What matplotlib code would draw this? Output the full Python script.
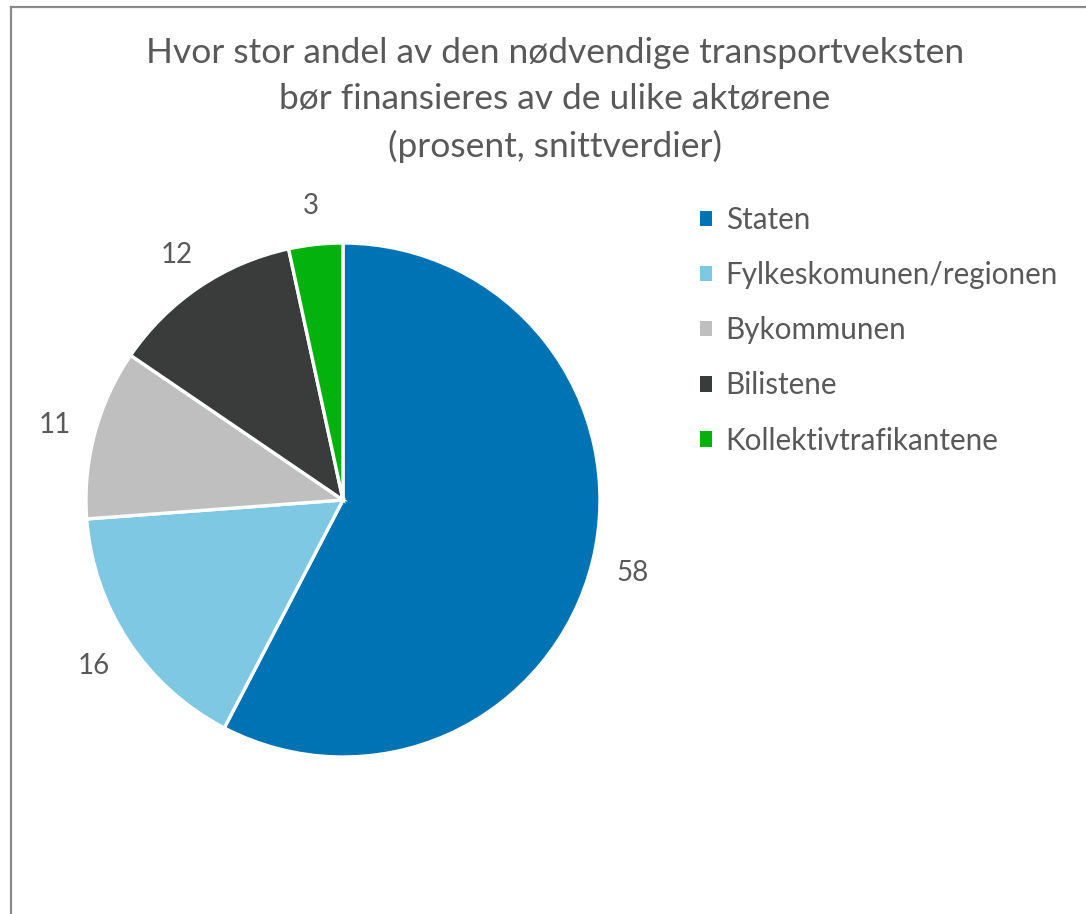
import matplotlib.pyplot as plt
from matplotlib.lines import Line2D
from matplotlib.patches import Patch

plt.rcParams["font.family"] = ["Lato", "DejaVu Sans"]

TITLE = "Hvor stor andel av den nødvendige transportveksten\nbør finansieres av de ulike aktørene\n(prosent, snittverdier)"
categories = ["Staten", "Fylkeskomunen/regionen", "Bykommunen", "Bilistene", "Kollektivtrafikantene"]
# averages; labels show them rounded
values = [57.7, 16.2, 10.7, 12.1, 3.4]
colors = ["#0073B5", "#7EC8E4", "#BFBFBF", "#3A3C3C", "#04B20D"]
TEXT = "#595959"

W, H = 1086, 914
fig = plt.figure(figsize=(W / 100, H / 100), dpi=100)

# chart frame (right and bottom edges fall outside the picture)
frame = "#8A8A8A"
fig.add_artist(Line2D([10.5 / W, 1.0], [1 - 6.5 / H] * 2, color=frame, lw=1.6))
fig.add_artist(Line2D([10.5 / W] * 2, [0.0, 1 - 6.5 / H], color=frame, lw=1.6))

fig.text(555 / W, 1 - 100 / H, TITLE, ha="center", va="center",
         fontsize=25.5, color=TEXT, linespacing=1.55)

cx, cy, r = 343, 500, 257
ax = fig.add_axes([(cx - r) / W, (H - cy - r) / H, 2 * r / W, 2 * r / H])
wedges, texts = ax.pie(values, colors=colors, startangle=90, counterclock=False,
                       labels=[f"{v:.0f}" for v in values], labeldistance=1.16,
                       wedgeprops=dict(edgecolor="white", linewidth=2.4),
                       textprops=dict(fontsize=20, color=TEXT))
for t in texts:
    t.set_ha("center")
    t.set_va("center_baseline")
ax.set_xlim(-1, 1)
ax.set_ylim(-1, 1)
ax.axis("off")

handles = [Patch(facecolor=c, edgecolor="none") for c in colors]
fig.legend(handles, categories, loc="upper left", bbox_to_anchor=(688 / W, 1 - 194 / H),
           frameon=False, fontsize=21.3, labelcolor=TEXT, handlelength=0.42,
           handleheight=0.42, handletextpad=0.45, labelspacing=0.92, borderaxespad=0)

fig.savefig("out.png", dpi=100)
